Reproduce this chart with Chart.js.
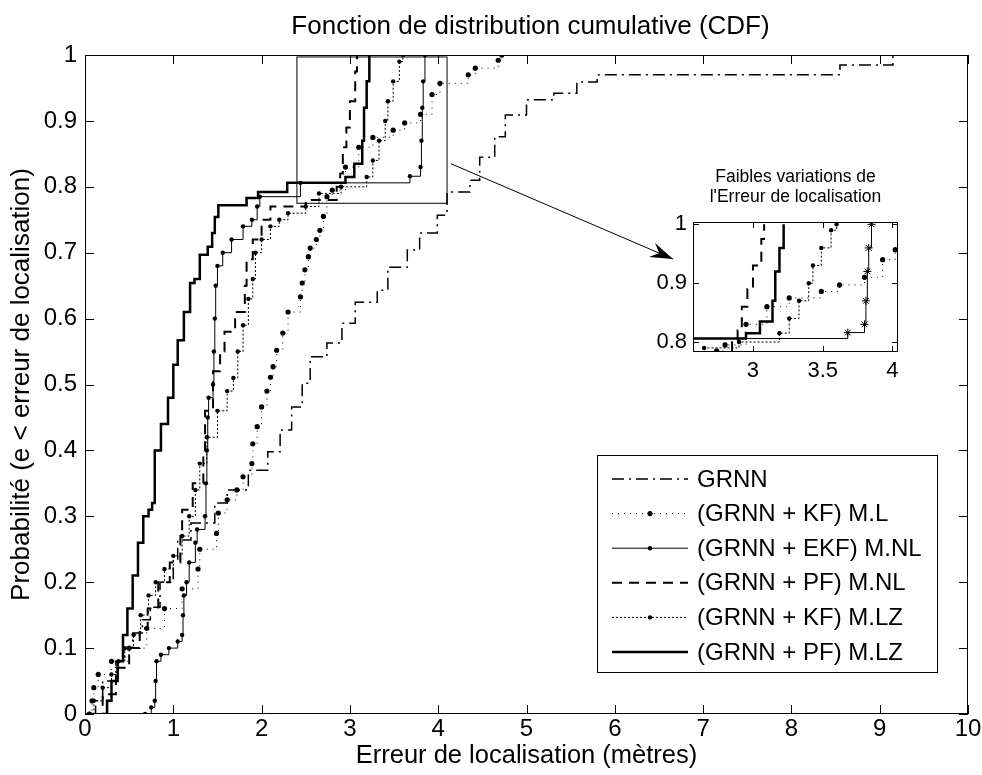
<!DOCTYPE html>
<html lang="fr">
<head>
<meta charset="UTF-8">
<title>Fonction de distribution cumulative (CDF)</title>
<style>
  html, body { margin: 0; padding: 0; background: #fff; }
  #wrap { position: relative; width: 982px; height: 775px; }
  #mainChart { position: absolute; left: 0; top: 0; }
  #insetChart { position: absolute; left: 620px; top: 160px; }
</style>
<script src="https://cdn.jsdelivr.net/npm/chart.js"></script>
</head>
<body>
<div id="wrap">
  <canvas id="mainChart" width="982" height="775"></canvas>
  <canvas id="insetChart" width="300" height="240"></canvas>
</div>
<script>
// --- data: [erreur (m), probabilité] ---
const grnn = [[0.08,0],[0.12,0.02],[0.2,0.05],[0.35,0.08],[0.45,0.1],[0.54,0.123],[0.65,0.143],[0.74,0.162],[0.85,0.2],[1.0,0.234],[1.05,0.264],[1.2,0.29],[1.47,0.32],[1.61,0.34],[1.85,0.37],[2.07,0.398],[2.21,0.431],[2.34,0.466],[2.46,0.502],[2.55,0.542],[2.74,0.563],[2.91,0.593],[3.06,0.625],[3.31,0.643],[3.43,0.678],[3.65,0.704],[3.79,0.73],[3.99,0.757],[4.1,0.792],[4.36,0.81],[4.47,0.845],[4.64,0.876],[4.76,0.909],[5.0,0.932],[5.31,0.942],[5.57,0.959],[5.8,0.97],[8.55,0.985],[9.15,1.0]];
const kfML = [[0.05,0],[0.08,0.02],[0.1,0.04],[0.15,0.06],[0.3,0.08],[0.5,0.1],[0.7,0.13],[0.9,0.16],[1.1,0.19],[1.28,0.22],[1.3,0.25],[1.49,0.274],[1.51,0.305],[1.61,0.325],[1.72,0.34],[1.79,0.36],[1.89,0.38],[1.9,0.41],[1.95,0.436],[2.0,0.466],[2.06,0.49],[2.1,0.511],[2.13,0.527],[2.17,0.552],[2.24,0.578],[2.3,0.61],[2.44,0.633],[2.46,0.654],[2.49,0.674],[2.53,0.694],[2.55,0.707],[2.62,0.72],[2.66,0.734],[2.7,0.755],[2.74,0.785],[2.8,0.795],[2.95,0.83],[3.1,0.86],[3.26,0.875],[3.49,0.886],[3.62,0.897],[3.8,0.91],[3.93,0.94],[4.02,0.957],[4.34,0.97],[4.42,0.98],[4.68,0.992],[4.72,1.0]];
const ekfMNL = [[0.68,0],[0.75,0.01],[0.79,0.02],[0.8,0.05],[0.81,0.08],[0.86,0.09],[0.95,0.1],[1.05,0.11],[1.1,0.12],[1.11,0.15],[1.12,0.18],[1.15,0.2],[1.18,0.23],[1.25,0.26],[1.27,0.28],[1.36,0.3],[1.37,0.35],[1.38,0.4],[1.39,0.45],[1.4,0.48],[1.45,0.5],[1.46,0.55],[1.47,0.6],[1.48,0.65],[1.5,0.68],[1.56,0.7],[1.66,0.72],[1.79,0.74],[1.89,0.75],[1.95,0.77],[1.98,0.785],[2.44,0.806],[3.68,0.816],[3.8,0.83],[3.81,0.87],[3.82,0.92],[3.83,0.96],[3.85,1.0]];
const pfMNL = [[0.1,0],[0.2,0.03],[0.35,0.07],[0.5,0.1],[0.62,0.13],[0.71,0.16],[0.83,0.2],[0.96,0.23],[1.08,0.27],[1.1,0.31],[1.22,0.35],[1.34,0.4],[1.36,0.46],[1.45,0.52],[1.53,0.55],[1.58,0.58],[1.7,0.61],[1.81,0.65],[1.83,0.69],[1.9,0.72],[2.0,0.75],[2.1,0.77],[2.5,0.78],[2.85,0.8],[2.89,0.82],[2.92,0.86],[2.96,0.89],[3.0,0.93],[3.06,0.975],[3.08,1.0]];
const kfMLZ = [[0.05,0],[0.1,0.02],[0.2,0.04],[0.3,0.06],[0.38,0.08],[0.45,0.1],[0.55,0.12],[0.63,0.15],[0.72,0.18],[0.8,0.2],[0.9,0.22],[1.0,0.24],[1.1,0.27],[1.18,0.3],[1.25,0.34],[1.3,0.38],[1.38,0.42],[1.5,0.46],[1.61,0.49],[1.68,0.51],[1.73,0.55],[1.79,0.59],[1.85,0.63],[1.9,0.66],[1.93,0.7],[2.0,0.72],[2.1,0.74],[2.2,0.75],[2.3,0.76],[2.5,0.77],[2.65,0.79],[2.9,0.8],[3.19,0.815],[3.26,0.84],[3.33,0.87],[3.4,0.9],[3.43,0.93],[3.49,0.96],[3.56,0.99],[3.6,1.0]];
const pfMLZ = [[0.2,0],[0.25,0.02],[0.3,0.05],[0.37,0.08],[0.43,0.12],[0.48,0.16],[0.54,0.21],[0.6,0.26],[0.66,0.3],[0.72,0.31],[0.76,0.32],[0.79,0.4],[0.86,0.44],[0.94,0.48],[1.0,0.53],[1.05,0.567],[1.12,0.61],[1.19,0.654],[1.24,0.66],[1.3,0.697],[1.39,0.709],[1.44,0.73],[1.47,0.754],[1.51,0.772],[1.83,0.783],[1.96,0.792],[2.29,0.806],[2.95,0.815],[3.05,0.835],[3.14,0.87],[3.16,0.92],[3.19,0.96],[3.22,1.0]];

const seriesLabels = ['GRNN', '(GRNN + KF) M.L', '(GRNN + EKF) M.NL', '(GRNN + PF) M.NL', '(GRNN + KF) M.LZ', '(GRNN + PF) M.LZ'];
const xTicks = [0, 1, 2, 3, 4, 5, 6, 7, 8, 9, 10];
const yTicks = [0, 0.1, 0.2, 0.3, 0.4, 0.5, 0.6, 0.7, 0.8, 0.9, 1];
const insetXTicks = [3, 3.5, 4];
const insetYTicks = [0.8, 0.9, 1];
const zoomBox = { x0: 2.4, x1: 4.1, y0: 0.775, y1: 0.997 };

const FONT = '"Liberation Sans", Arial, Helvetica, sans-serif';
Chart.defaults.font.family = FONT;
Chart.defaults.color = '#000';

const styles = [
  { borderWidth: 1.5, borderDash: [12, 5, 2, 5], pointRadius: 0 },
  { borderWidth: 1, borderDash: [1, 5], pointRadius: 2.6 },
  { borderWidth: 1, borderDash: [], pointRadius: 2.2 },
  { borderWidth: 2, borderDash: [10, 7], pointRadius: 0 },
  { borderWidth: 1, borderDash: [2, 2], pointRadius: 2.2 },
  { borderWidth: 2.5, borderDash: [], pointRadius: 0 }
];
const allSeries = [grnn, kfML, ekfMNL, pfMNL, kfMLZ, pfMLZ];

function makeDatasets(inset) {
  return allSeries.map((s, i) => ({
    label: seriesLabels[i],
    data: s.map(p => ({ x: p[0], y: p[1] })),
    stepped: 'before',   // horizontal first, then the jump (CDF staircase)
    borderColor: '#000',
    backgroundColor: '#000',
    pointBackgroundColor: '#000',
    pointBorderColor: '#000',
    pointBorderWidth: (inset && i === 2) ? 1 : 0,
    borderWidth: styles[i].borderWidth,
    borderDash: styles[i].borderDash,
    pointRadius: (inset && i === 2) ? 4 : styles[i].pointRadius,
    pointStyle: (inset && i === 2) ? 'star' : 'circle',
    fill: false
  }));
}

function fixedTicks(arr) {
  return scale => { scale.ticks = arr.map(v => ({ value: v })); };
}

// box + inward ticks, MATLAB style
function frame(chart, tickLen) {
  const { ctx, chartArea: a, scales: { x, y } } = chart;
  ctx.save();
  ctx.strokeStyle = '#000';
  ctx.lineWidth = 1;
  ctx.strokeRect(a.left + 0.5, a.top + 0.5, a.right - a.left - 1, a.bottom - a.top - 1);
  ctx.beginPath();
  x.ticks.forEach(t => {
    const px = Math.round(x.getPixelForValue(t.value)) + 0.5;
    ctx.moveTo(px, a.bottom); ctx.lineTo(px, a.bottom - tickLen);
    ctx.moveTo(px, a.top); ctx.lineTo(px, a.top + tickLen);
  });
  y.ticks.forEach(t => {
    const py = Math.round(y.getPixelForValue(t.value)) + 0.5;
    ctx.moveTo(a.left, py); ctx.lineTo(a.left + tickLen, py);
    ctx.moveTo(a.right, py); ctx.lineTo(a.right - tickLen, py);
  });
  ctx.stroke();
  ctx.restore();
}

const INSET_LEFT = 620, INSET_TOP = 160;

const mainDecor = {
  id: 'mainDecor',
  afterDraw(chart) {
    const { ctx, chartArea: a, scales: { x, y } } = chart;
    frame(chart, 9);
    ctx.save();
    // title
    ctx.fillStyle = '#000';
    ctx.font = '26px ' + FONT;
    ctx.textAlign = 'center';
    ctx.textBaseline = 'middle';
    ctx.fillText('Fonction de distribution cumulative (CDF)', (a.left + a.right) / 2 + 4, 27);

    // zoomed region
    const bx0 = x.getPixelForValue(zoomBox.x0), bx1 = x.getPixelForValue(zoomBox.x1);
    const by0 = y.getPixelForValue(zoomBox.y0), by1 = y.getPixelForValue(zoomBox.y1);
    ctx.strokeStyle = '#000';
    ctx.lineWidth = 1;
    ctx.strokeRect(bx0, by1, bx1 - bx0, by0 - by1);

    // arrow to the inset
    const sx = bx1 + 4, sy = y.getPixelForValue(0.835);
    const ex = INSET_LEFT + 53, ey = INSET_TOP + 99;
    ctx.beginPath();
    ctx.moveTo(sx, sy); ctx.lineTo(ex, ey);
    ctx.stroke();
    const ang = Math.atan2(ey - sy, ex - sx);
    ctx.beginPath();
    ctx.moveTo(ex, ey);
    ctx.lineTo(ex - 24 * Math.cos(ang - 0.32), ey - 24 * Math.sin(ang - 0.32));
    ctx.lineTo(ex - 15 * Math.cos(ang), ey - 15 * Math.sin(ang));
    ctx.lineTo(ex - 24 * Math.cos(ang + 0.32), ey - 24 * Math.sin(ang + 0.32));
    ctx.closePath();
    ctx.fillStyle = '#000';
    ctx.fill();

    // legend
    const lx = a.left + 512, ly = a.bottom - 259, lw = 340, lh = 217;
    ctx.fillStyle = '#fff';
    ctx.fillRect(lx, ly, lw, lh);
    ctx.strokeStyle = '#000';
    ctx.lineWidth = 1;
    ctx.strokeRect(lx + 0.5, ly + 0.5, lw, lh);
    chart.data.datasets.forEach((ds, i) => {
      const yy = ly + 24 + 34.6 * i;
      ctx.save();
      ctx.strokeStyle = '#000';
      ctx.lineWidth = ds.borderWidth;
      ctx.setLineDash(ds.borderDash);
      ctx.beginPath();
      ctx.moveTo(lx + 15, yy); ctx.lineTo(lx + 91, yy);
      ctx.stroke();
      if (ds.pointRadius > 0) {
        ctx.beginPath();
        ctx.arc(lx + 53, yy, ds.pointRadius, 0, Math.PI * 2);
        ctx.fillStyle = '#000';
        ctx.fill();
      }
      ctx.restore();
      ctx.fillStyle = '#000';
      ctx.font = '24px ' + FONT;
      ctx.textAlign = 'left';
      ctx.textBaseline = 'middle';
      ctx.fillText(ds.label, lx + 100, yy + 1);
    });
    ctx.restore();
  }
};

new Chart(document.getElementById('mainChart'), {
  type: 'line',
  data: { datasets: makeDatasets(false) },
  options: {
    responsive: false,
    animation: false,
    devicePixelRatio: 1,
    layout: { padding: { top: 55, right: 14, left: 0, bottom: 0 } },
    plugins: { legend: { display: false }, title: { display: false }, tooltip: { enabled: false } },
    scales: {
      x: {
        type: 'linear', min: 0, max: 10,
        afterBuildTicks: fixedTicks(xTicks),
        afterFit: s => { s.height = 61; s.paddingRight = 0; s.paddingLeft = 0; },
        grid: { display: false, drawTicks: false },
        border: { display: false },
        ticks: { font: { size: 24 }, padding: 1, maxRotation: 0, callback: v => String(v) },
        title: { display: true, text: 'Erreur de localisation (mètres)', font: { size: 25.5 }, padding: { top: 0, bottom: 4 } }
      },
      y: {
        type: 'linear', min: 0, max: 1,
        afterBuildTicks: fixedTicks(yTicks),
        afterFit: s => { s.width = 85; },
        grid: { display: false, drawTicks: false },
        border: { display: false },
        ticks: { font: { size: 24 }, padding: 8, callback: v => String(v) },
        title: { display: true, text: 'Probabilité (e < erreur de localisation)', font: { size: 26 }, padding: { top: 6, bottom: 0 } }
      }
    }
  },
  plugins: [mainDecor]
});

const insetDecor = {
  id: 'insetDecor',
  afterDraw(chart) {
    const { ctx, chartArea: a } = chart;
    frame(chart, 6);
    ctx.save();
    ctx.fillStyle = '#000';
    ctx.font = '17.5px ' + FONT;
    ctx.textAlign = 'center';
    ctx.textBaseline = 'middle';
    const cx = (a.left + a.right) / 2;
    ctx.fillText('Faibles variations de', cx, a.top - 45);
    ctx.fillText("l'Erreur de localisation", cx, a.top - 25);
    ctx.restore();
  }
};

new Chart(document.getElementById('insetChart'), {
  type: 'line',
  data: { datasets: makeDatasets(true) },
  options: {
    responsive: false,
    animation: false,
    devicePixelRatio: 1,
    layout: { padding: { top: 62, right: 22, left: 0, bottom: 0 } },
    plugins: { legend: { display: false }, title: { display: false }, tooltip: { enabled: false } },
    scales: {
      x: {
        type: 'linear', min: 2.57, max: 4.04,
        afterBuildTicks: fixedTicks(insetXTicks),
        afterFit: s => { s.height = 48; s.paddingRight = 0; s.paddingLeft = 0; },
        grid: { display: false, drawTicks: false },
        border: { display: false },
        ticks: { font: { size: 22 }, padding: 6, maxRotation: 0, callback: v => String(v) }
      },
      y: {
        type: 'linear', min: 0.783, max: 1.004,
        afterBuildTicks: fixedTicks(insetYTicks),
        afterFit: s => { s.width = 73; },
        grid: { display: false, drawTicks: false },
        border: { display: false },
        ticks: { font: { size: 22 }, padding: 6, callback: v => String(v) }
      }
    }
  },
  plugins: [insetDecor]
});
</script>
</body>
</html>
